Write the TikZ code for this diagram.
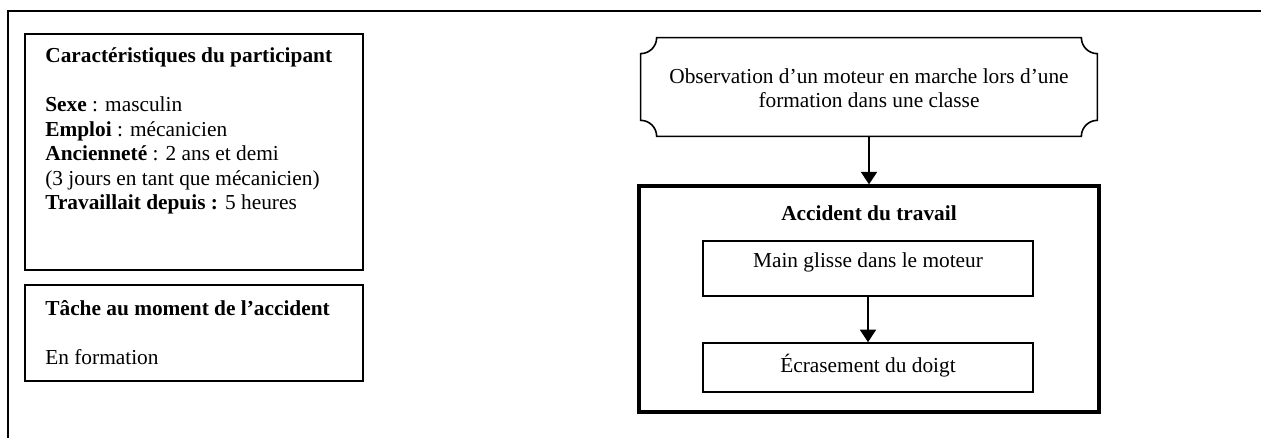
\documentclass[tikz,border=0pt]{standalone}
\usepackage{fontspec}
\setmainfont{Liberation Serif}
\usetikzlibrary{arrows.meta,fit}
\begin{document}
\begin{tikzpicture}[x=0.5625pt,y=0.5625pt,
  txt/.style={inner sep=0pt,font=\fontsize{12}{13.8}\selectfont},
  panel/.style={draw,line width=0.9pt,inner sep=0pt},
  thickpanel/.style={draw,line width=1.8pt,inner sep=0pt},
  flowarrow/.style={line width=0.8pt,-{Triangle[width=9pt,length=7pt]}}]
\useasboundingbox (0,0) rectangle (1261,438);
% outer frame (left and top rules)
\coordinate (fbot) at (8,0);
\coordinate (fcorner) at (8,427);
\coordinate (fright) at (1261,427);
\draw[line width=1pt] (fbot) -- (fcorner) -- (fright);

% participant panel (text placed by the baseline of its last line)
\node[panel,fit={(25,168)(363,404)}] (part) {};
\node[txt,anchor=base west,align=left] (parttxt) at (45,228)
  {\textbf{Caractéristiques du participant}\\[13.8pt]
   \textbf{Sexe} : masculin\\
   \textbf{Emploi} : mécanicien\\
   \textbf{Ancienneté} : 2 ans et demi\\
   (3 jours en tant que mécanicien)\\
   \textbf{Travaillait depuis :} 5 heures};

% task panel
\node[panel,fit={(25,57)(363,153)}] (task) {};
\node[txt,anchor=base west,align=left] (tasktxt) at (45,73)
  {\textbf{Tâche au moment de l’accident}\\[13.8pt]
   En formation};

% observation box with concave corners
\node[inner sep=0pt,fit={(641,302)(1097,400)}] (obs) {};
\draw[line width=0.9pt]
  ([xshift=9pt]obs.north west) -- ([xshift=-9pt]obs.north east)
  arc[start angle=180,end angle=270,radius=9pt]
  -- ([yshift=9pt]obs.south east)
  arc[start angle=90,end angle=180,radius=9pt]
  -- ([xshift=9pt]obs.south west)
  arc[start angle=0,end angle=90,radius=9pt]
  -- ([yshift=-9pt]obs.north west)
  arc[start angle=270,end angle=360,radius=9pt] -- cycle;
\node[txt,anchor=base,align=center] (obstxt) at (869,330)
  {Observation d’un moteur en marche lors d’une\\
   formation dans une classe};

% work accident frame
\node[thickpanel,fit={(639,26)(1099,252)}] (acc) {};
\node[txt,anchor=base] (acctitle) at (869,217) {\textbf{Accident du travail}};
\node[panel,fit={(703,142)(1033,197)}] (slip) {};
\node[txt,anchor=base] (sliptxt) at (868,170) {Main glisse dans le moteur};
\node[panel,fit={(703,46)(1033,95)}] (crush) {};
\node[txt,anchor=base] (crushtxt) at (868,65) {Écrasement du doigt};

% connectors
\draw[flowarrow] (obs.south) -- (acc.north);
\draw[flowarrow] (slip.south) -- (crush.north);
\end{tikzpicture}
\end{document}
